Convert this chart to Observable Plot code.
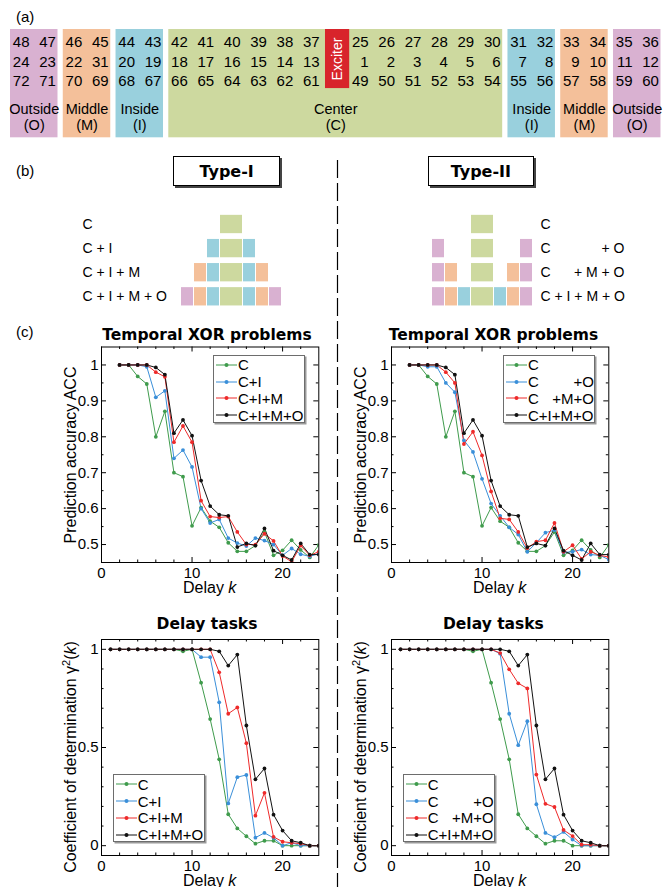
<!DOCTYPE html>
<html><head><meta charset="utf-8">
<script src="https://cdn.jsdelivr.net/npm/d3@7"></script>
<script src="https://cdn.jsdelivr.net/npm/@observablehq/plot@0.6"></script>
<style>
html,body{margin:0;padding:0;background:#fff;}
#root{position:relative;width:664px;height:887px;overflow:hidden;font-family:Arial,"Liberation Sans",sans-serif;color:#000;background:#fff;}
.lbl{position:absolute;font-size:15px;line-height:1;white-space:nowrap;}
.title{position:absolute;font-family:"DejaVu Sans",sans-serif;font-weight:bold;font-size:15.5px;line-height:1;white-space:nowrap;transform:translateX(-50%);}
.ylab{position:absolute;font-size:16px;line-height:1;white-space:nowrap;transform:translate(-50%,-50%) rotate(-90deg);}
.xlab{position:absolute;font-size:16px;line-height:1;white-space:nowrap;transform:translateX(-50%);}
.legend{position:absolute;background:#fff;border:1px solid #6d6d6d;box-shadow:1.5px 1.5px 0 #9a9a9a;font-size:15px;line-height:1;box-sizing:border-box;}
.typebox{position:absolute;box-sizing:border-box;border:1.6px solid #000;box-shadow:2px 2px 0 #444;font-family:"DejaVu Sans",sans-serif;font-weight:bold;font-size:16px;display:flex;align-items:center;justify-content:center;background:#fff;}
</style></head><body><div id="root"></div>
<script>
// ---------------- DATA ----------------
// Panel (a): node numbers
const leftNumbers = [
  [48,47,46,45,44,43,42,41,40,39,38,37],
  [24,23,22,31,20,19,18,17,16,15,14,13],
  [72,71,70,69,68,67,66,65,64,63,62,61]
];
const rightNumbers = [
  [25,26,27,28,29,30,31,32,33,34,35,36],
  [1,2,3,4,5,6,7,8,9,10,11,12],
  [49,50,51,52,53,54,55,56,57,58,59,60]
];
const leftRegions  = ["O","O","M","M","I","I","C","C","C","C","C","C"];
const rightRegions = ["C","C","C","C","C","C","I","I","M","M","O","O"];
const regionNames  = {O:"Outside", M:"Middle", I:"Inside", C:"Center"};
const regionColors = {O:"#d9b1d1", M:"#f4c09a", I:"#99d0dd", C:"#cdd99f"};
const exciterColor = "#d8242b";
const exciterLabel = "Exciter";

// Panel (b)
const typeIRows  = [["C"],["C","I"],["C","I","M"],["C","I","M","O"]];
const typeIIRows = [["C"],["C","O"],["C","M","O"],["C","I","M","O"]];
const typeILabels = ["C","C + I","C + I + M","C + I + M + O"];
const typeIILabelsLeft  = ["C","C","C","C + I + M + O"];
const typeIILabelsRight = ["","+ O","+ M + O",""];

// Panel (c)
const seriesColors = ["#3f9b4c","#3a8fd9","#ee2a2a","#111111"];
const typeINames  = ["C","C+I","C+I+M","C+I+M+O"];
const typeIINames = ["C","C+O","C+M+O","C+I+M+O"];
const typeIILegend = [["C",""],["C","+O"],["C","+M+O"],["C+I+M+O",""]];

const xorK = [2,3,4,5,6,7,8,9,10,11,12,13,14,15,16,17,18,19,20,21,22,23,24];
const xorC     = [1,1,0.968,0.947,0.800,0.871,0.700,0.689,0.552,0.603,0.565,0.548,0.505,0.481,0.481,0.497,0.535,0.470,0.484,0.512,0.485,0.464,0.499];
const xorCI    = [1,1,1,0.995,0.910,0.928,0.740,0.763,0.716,0.600,0.560,0.570,0.518,0.504,0.496,0.518,0.511,0.500,0.470,0.489,0.473,0.467,0.475];
const xorCIM   = [1,1,1,1,0.980,0.967,0.785,0.830,0.785,0.622,0.578,0.575,0.578,0.535,0.500,0.500,0.530,0.510,0.468,0.452,0.497,0.470,0.480];
const xorCIMO  = [1,1,1,1,0.993,0.973,0.810,0.847,0.803,0.678,0.607,0.583,0.580,0.493,0.503,0.497,0.545,0.483,0.470,0.457,0.503,0.472,0.472];
const xorCO    = [1,1,0.995,0.995,0.950,0.924,0.790,0.758,0.683,0.614,0.580,0.548,0.528,0.480,0.505,0.533,0.540,0.478,0.480,0.486,0.472,0.470,0.458];
const xorCMO   = [1,1,1,1,0.980,0.950,0.780,0.814,0.748,0.648,0.573,0.570,0.535,0.490,0.508,0.512,0.560,0.480,0.498,0.460,0.480,0.470,0.465];

const delayK = [1,2,3,4,5,6,7,8,9,10,11,12,13,14,15,16,17,18,19,20,21,22,23,24];
const delC    = [1,1,1,1,1,1,1,1,0.990,1,0.830,0.645,0.440,0.160,0.088,0.048,0.010,0.025,0.025,0,0,0,0,0];
const delCI   = [1,1,1,1,1,1,1,1,1,1,0.960,0.960,0.730,0.215,0.349,0.360,0.041,0.065,0.040,0,0.015,0,0,0];
const delCIM  = [1,1,1,1,1,1,1,1,1,1,1,1,0.883,0.672,0.704,0.522,0.153,0.269,0.045,0.020,0.015,0.010,0,0];
const delCIMO = [1,1,1,1,1,1,1,1,1,1,1,1,0.990,0.917,0.973,0.612,0.338,0.393,0.158,0.077,0.025,0.015,0,0];
const delCO   = [1,1,1,1,1,1,1,1,1,1,1,0.978,0.672,0.512,0.634,0.211,0.065,0.043,0.070,0.031,0,0,0,0];
const delCMO  = [1,1,1,1,1,1,1,1,1,1,1,0.981,0.898,0.827,0.801,0.362,0.213,0.197,0.080,0.049,0.005,0.005,0,0];

const xTicksMajor = [0,10,20];
const xTicksMinor = [2,4,6,8,12,14,16,18,22];
const xorYMajor = [0.5,0.6,0.7,0.8,0.9,1];
const xorYMinor = [0.55,0.65,0.75,0.85,0.95];
const delYMajor = [0,0.5,1];
const delYMinor = [0.1,0.2,0.3,0.4,0.6,0.7,0.8,0.9];

// ---------------- LAYOUT HELPERS ----------------
const root = document.getElementById("root");
const FONT = "Arial, 'Liberation Sans', sans-serif";
function place(node, left, top) {
  node.style.position = "absolute";
  node.style.left = left + "px";
  node.style.top = top + "px";
  root.appendChild(node);
  return node;
}
function html(str, left, top, cls, extra) {
  const d = document.createElement("div");
  d.className = cls;
  d.innerHTML = str;
  d.style.left = left + "px";
  d.style.top = top + "px";
  if (extra) Object.assign(d.style, extra);
  root.appendChild(d);
  return d;
}
const baseStyle = {background: "transparent", fontFamily: FONT, fontSize: "15px", overflow: "visible", color: "black"};

// ---------------- PANEL (a) ----------------
const EXC_GAP = 1.857;
const cols = [
  ...leftRegions.map((region, i) => ({u: i, region})),
  ...rightRegions.map((region, j) => ({u: 11 + EXC_GAP + j, region}))
];
const groups = [];
for (const c of cols) {
  const g = groups[groups.length - 1];
  if (g && g.region === c.region) g.last = c.u;
  else groups.push({region: c.region, first: c.u, last: c.u});
}
groups.forEach(g => { g.x1 = g.first - 0.72; g.x2 = g.last + 0.08; g.xc = (g.x1 + g.x2) / 2; });
const numTexts = [];
[leftNumbers, rightNumbers].forEach((rows, side) =>
  rows.forEach((row, r) => row.forEach((n, i) => numTexts.push({u: cols[side * 12 + i].u, r, n}))));
const BOX_TOP = -0.677, BOX_BOT = 4.964;
const exciter = {x1: 11.22, x2: 11 + EXC_GAP - 0.72, y1: BOX_TOP, y2: 2.4};
exciter.xc = (exciter.x1 + exciter.x2) / 2; exciter.yc = (exciter.y1 + exciter.y2) / 2;

place(Plot.plot({
  width: 664, height: 145, margin: 0,
  x: {domain: [-1.0993, 24.071], range: [0, 664], axis: null},
  y: {domain: [-2.1875, 5.3646], range: [0, 145], axis: null},
  color: {type: "identity"},
  style: baseStyle,
  marks: [
    Plot.rect(groups, {x1: "x1", x2: "x2", y1: () => BOX_TOP, y2: () => BOX_BOT, fill: d => regionColors[d.region]}),
    Plot.rect([exciter], {x1: "x1", x2: "x2", y1: "y1", y2: "y2", fill: () => exciterColor}),
    Plot.text([exciter], {x: "xc", y: "yc", text: () => exciterLabel, rotate: -90, fill: "white", fontSize: 14}),
    Plot.text(numTexts, {x: "u", y: "r", text: "n", textAnchor: "end", fontSize: 15}),
    Plot.text(groups, {x: "xc", y: () => 3.46, text: d => regionNames[d.region], fontSize: 14.5}),
    Plot.text(groups, {x: "xc", y: () => 4.33, text: d => `(${d.region})`, fontSize: 14.5})
  ]
}), 0, 0);

html("(a)", 16, 9.3, "lbl");
html("(b)", 16, 163.3, "lbl");
html("(c)", 16, 324.3, "lbl");

// ---------------- PANEL (b) ----------------
const ringIndex = {C: 0, I: 1, M: 2, O: 3};
function squares(rowsSpec, cx) {
  const out = [];
  rowsSpec.forEach((regs, r) => regs.forEach(reg => {
    const k = ringIndex[reg];
    if (k === 0) out.push({x1: cx - 11, x2: cx + 11, r, reg});
    else {
      out.push({x1: cx - 11 - 13 * k, x2: cx - 12 - 13 * (k - 1), r, reg});
      out.push({x1: cx + 12 + 13 * (k - 1), x2: cx + 11 + 13 * k, r, reg});
    }
  }));
  return out;
}
const sq = [...squares(typeIRows, 231), ...squares(typeIIRows, 482)];
place(Plot.plot({
  width: 664, height: 120, margin: 0,
  x: {domain: [0, 664], range: [0, 664], axis: null},
  y: {domain: [-0.9959, 3.9834], range: [0, 120], axis: null},
  color: {type: "identity"},
  style: baseStyle,
  marks: [
    Plot.rect(sq, {x1: "x1", x2: "x2", y1: d => d.r - 0.38, y2: d => d.r + 0.38, fill: d => regionColors[d.reg]}),
    Plot.text(typeILabels, {x: () => 82, y: (d, i) => i, text: d => d, textAnchor: "start", fontSize: 14}),
    Plot.text(typeIILabelsLeft, {x: () => 540, y: (d, i) => i, text: d => d, textAnchor: "start", fontSize: 14}),
    Plot.text(typeIILabelsRight, {x: () => 624, y: (d, i) => i, text: d => d, textAnchor: "end", fontSize: 14})
  ]
}), 0, 200);

html("Type-I", 173.3, 156, "typebox", {width: "106.7px", height: "30px"});
html("Type-II", 427.7, 156, "typebox", {width: "106.3px", height: "30px"});

// dashed separator
place(Plot.plot({
  width: 8, height: 727, margin: 0,
  x: {domain: [0, 1], axis: null},
  style: baseStyle,
  marks: [Plot.ruleX([0.5], {stroke: "black", strokeWidth: 1.2, strokeDasharray: "18,5"})]
}), 332.7, 160);

// ---------------- PANEL (c) ----------------
function chart({names, k, values, yDomain, yMajor, yMinor, H, mt, mb}) {
  const W = 337, ml = 101, mr = 18.7;
  const pw = W - ml - mr, ph = H - mt - mb;
  const rows = names.flatMap((name, s) => values[s].map((v, i) => ({k: k[i], v, name})));
  const fmt = d => String(Math.round(d * 100) / 100);
  return Plot.plot({
    width: W, height: H, marginLeft: ml, marginRight: mr, marginTop: mt, marginBottom: mb,
    x: {domain: [0, 24]},
    y: {domain: yDomain},
    color: {domain: names, range: seriesColors},
    style: baseStyle,
    marks: [
      Plot.tickX(xTicksMajor, {x: d => d, insetTop: ph - 5, stroke: "black"}),
      Plot.tickX(xTicksMajor, {x: d => d, insetBottom: ph - 5, stroke: "black"}),
      Plot.tickX(xTicksMinor, {x: d => d, insetTop: ph - 2.5, stroke: "black"}),
      Plot.tickX(xTicksMinor, {x: d => d, insetBottom: ph - 2.5, stroke: "black"}),
      Plot.tickY(yMajor, {y: d => d, insetRight: pw - 5, stroke: "black"}),
      Plot.tickY(yMajor, {y: d => d, insetLeft: pw - 5, stroke: "black"}),
      Plot.tickY(yMinor, {y: d => d, insetRight: pw - 2.5, stroke: "black"}),
      Plot.tickY(yMinor, {y: d => d, insetLeft: pw - 2.5, stroke: "black"}),
      Plot.line(rows, {x: "k", y: "v", z: "name", stroke: "name", strokeWidth: 1, clip: true}),
      Plot.dot(rows, {x: "k", y: "v", fill: "name", r: 1.9, clip: true}),
      Plot.frame({stroke: "black", strokeWidth: 1}),
      Plot.axisX({ticks: xTicksMajor, tickSize: 0, tickPadding: 5, label: null, tickFormat: fmt}),
      Plot.axisY({ticks: yMajor, tickSize: 0, tickPadding: 3, label: null, tickFormat: fmt})
    ]
  });
}

function legend(entries, left, top) {
  const d = document.createElement("div");
  d.className = "legend";
  Object.assign(d.style, {left: left + "px", top: top + "px", width: "92px", height: "68px"});
  entries.forEach((e, i) => {
    const c = seriesColors[i];
    const row = document.createElement("div");
    Object.assign(row.style, {position: "absolute", left: "2px", top: (9.4 + 16.7 * i - 8) + "px", height: "16px", display: "flex", alignItems: "center"});
    const [a, b] = Array.isArray(e) ? e : [e, ""];
    row.innerHTML = `<svg width="21" height="16" style="display:block"><line x1="0" x2="21" y1="8" y2="8" stroke="${c}" stroke-width="1"/><circle cx="10.5" cy="8" r="2" fill="${c}"/></svg>` +
      `<div style="display:flex;justify-content:space-between;width:66px;margin-left:1px;"><span>${a}</span><span>${b}</span></div>`;
    d.appendChild(row);
  });
  root.appendChild(d);
}

// top charts
place(chart({names: typeINames, k: xorK, values: [xorC, xorCI, xorCIM, xorCIMO], yDomain: [0.45, 1.05], yMajor: xorYMajor, yMinor: xorYMinor, H: 270, mt: 16.5, mb: 38}), 0, 330);
place(chart({names: typeIINames, k: xorK, values: [xorC, xorCO, xorCMO, xorCIMO], yDomain: [0.45, 1.05], yMajor: xorYMajor, yMinor: xorYMinor, H: 270, mt: 16.5, mb: 38}), 290, 330);
// bottom charts
place(chart({names: typeINames, k: delayK, values: [delC, delCI, delCIM, delCIMO], yDomain: [-0.05, 1.05], yMajor: delYMajor, yMinor: delYMinor, H: 267, mt: 19, mb: 32}), 0, 620);
place(chart({names: typeIINames, k: delayK, values: [delC, delCO, delCMO, delCIMO], yDomain: [-0.05, 1.05], yMajor: delYMajor, yMinor: delYMinor, H: 267, mt: 19, mb: 32}), 290, 620);

legend(typeINames, 213, 354.5);
legend(typeIILegend, 503, 354.5);
legend(typeINames, 112.7, 774);
legend(typeIILegend, 402.7, 774);

// titles & axis labels
html("Temporal XOR problems", 207, 327.6, "title");
html("Temporal XOR problems", 493.5, 327.6, "title");
html("Delay tasks", 207, 617.4, "title");
html("Delay tasks", 493.4, 617.4, "title");

html("Prediction accuracy ACC", 71, 454.5, "ylab");
html("Prediction accuracy ACC", 361, 454.5, "ylab");
const coefLabel = 'Coefficient of determination γ<span style="font-size:11px;position:relative;top:-6px;">2</span>(<i>k</i>)';
html(coefLabel, 71, 757, "ylab");
html(coefLabel, 361, 757, "ylab");

html("Delay <i>k</i>", 209.7, 579.5, "xlab");
html("Delay <i>k</i>", 499.7, 579.5, "xlab");
html("Delay <i>k</i>", 209.7, 872.8, "xlab");
html("Delay <i>k</i>", 499.7, 872.8, "xlab");
</script></body></html>
